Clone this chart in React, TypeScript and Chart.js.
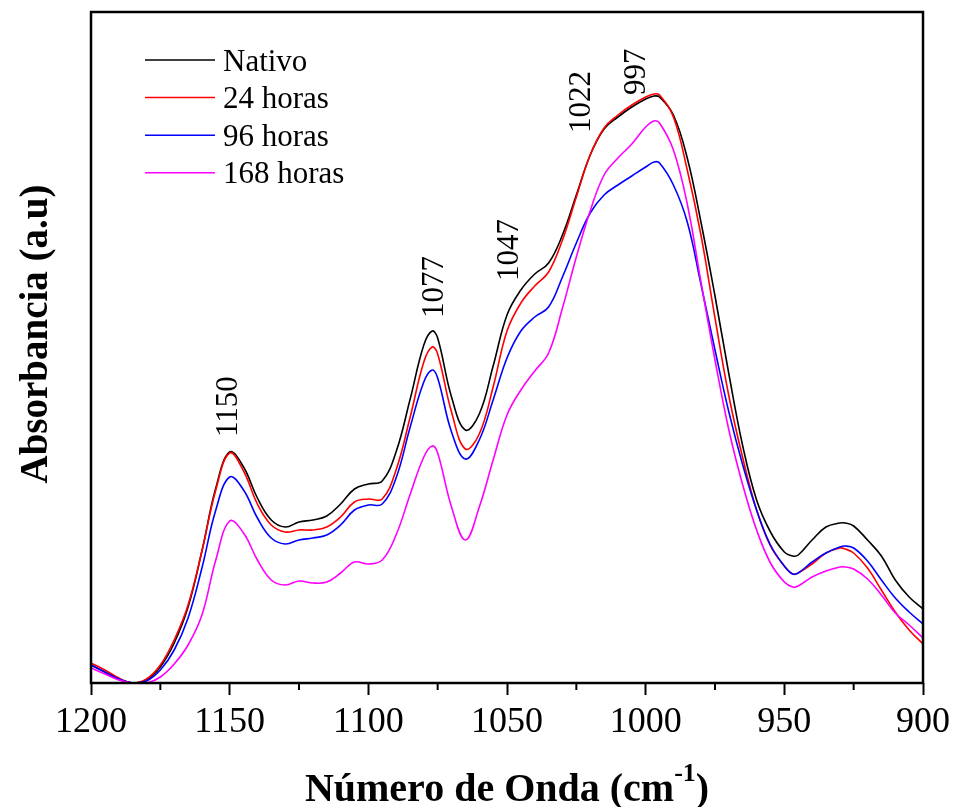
import React, { useEffect, useRef } from 'react';
import { Chart, registerables } from 'chart.js';

Chart.register(...registerables);

const wavenumbers = [
  1200, 1195, 1190, 1185, 1180, 1175, 1170, 1165, 1160, 1155,
  1150, 1145, 1140, 1135, 1130, 1125, 1120, 1115, 1110, 1105,
  1100, 1095, 1090, 1085, 1080, 1077, 1075, 1070, 1065, 1060,
  1055, 1050, 1045, 1040, 1035, 1030, 1025, 1020, 1015, 1010,
  1005, 1000, 997, 995, 990, 985, 980, 975, 970, 965,
  960, 955, 950, 947, 945, 940, 935, 930, 928, 925,
  920, 915, 910, 905, 900,
];

const nativo = [
  0.018, 0.011, 0.004, 0.000, 0.003, 0.016, 0.040, 0.076, 0.132, 0.195,
  0.231, 0.216, 0.185, 0.163, 0.156, 0.161, 0.163, 0.167, 0.179, 0.194,
  0.199, 0.202, 0.231, 0.283, 0.338, 0.352, 0.345, 0.286, 0.253, 0.269,
  0.317, 0.368, 0.393, 0.409, 0.420, 0.448, 0.488, 0.528, 0.554, 0.566,
  0.576, 0.584, 0.587, 0.586, 0.568, 0.525, 0.460, 0.387, 0.309, 0.237,
  0.183, 0.151, 0.131, 0.127, 0.128, 0.143, 0.156, 0.160, 0.160, 0.157,
  0.143, 0.127, 0.103, 0.086, 0.074,
];

const horas24 = [
  0.020, 0.013, 0.005, 0.000, 0.004, 0.018, 0.043, 0.078, 0.132, 0.193,
  0.230, 0.212, 0.179, 0.158, 0.151, 0.153, 0.153, 0.156, 0.166, 0.181,
  0.184, 0.184, 0.213, 0.265, 0.321, 0.336, 0.329, 0.271, 0.234, 0.249,
  0.296, 0.352, 0.380, 0.397, 0.411, 0.443, 0.486, 0.528, 0.555, 0.568,
  0.578, 0.586, 0.589, 0.588, 0.566, 0.513, 0.447, 0.365, 0.287, 0.225,
  0.173, 0.137, 0.117, 0.109, 0.110, 0.119, 0.130, 0.135, 0.134, 0.130,
  0.115, 0.093, 0.071, 0.053, 0.039,
];

const horas96 = [
  0.018, 0.011, 0.004, 0.000, 0.002, 0.013, 0.033, 0.065, 0.115, 0.173,
  0.206, 0.193, 0.165, 0.145, 0.139, 0.143, 0.145, 0.148, 0.158, 0.173,
  0.178, 0.179, 0.205, 0.255, 0.301, 0.313, 0.305, 0.251, 0.224, 0.243,
  0.283, 0.325, 0.352, 0.366, 0.376, 0.406, 0.440, 0.470, 0.488, 0.498,
  0.507, 0.516, 0.521, 0.520, 0.498, 0.461, 0.398, 0.333, 0.271, 0.218,
  0.173, 0.138, 0.117, 0.109, 0.110, 0.121, 0.130, 0.136, 0.137, 0.135,
  0.122, 0.103, 0.085, 0.071, 0.059,
];

const horas168 = [
  0.015, 0.009, 0.003, 0.000, 0.000, 0.006, 0.019, 0.038, 0.068, 0.123,
  0.162, 0.150, 0.123, 0.103, 0.098, 0.102, 0.100, 0.101, 0.110, 0.121,
  0.119, 0.123, 0.148, 0.188, 0.226, 0.237, 0.230, 0.176, 0.143, 0.176,
  0.223, 0.268, 0.293, 0.312, 0.330, 0.375, 0.426, 0.472, 0.508, 0.525,
  0.539, 0.556, 0.562, 0.560, 0.533, 0.479, 0.400, 0.323, 0.253, 0.198,
  0.153, 0.120, 0.101, 0.096, 0.097, 0.106, 0.112, 0.116, 0.116, 0.114,
  0.104, 0.088, 0.070, 0.058, 0.045,
];

const seriesLabels = ['Nativo', '24 horas', '96 horas', '168 horas'];
const seriesColors = ['#000000', '#ff0000', '#0000ff', '#ff00ff'];
const seriesValues = [nativo, horas24, horas96, horas168];

const minorTicks = [1175, 1125, 1075, 1025, 975, 925];

const peakLabels = ['1150', '1077', '1047', '1022', '997'];
const peakLabelX = [1151, 1077, 1050, 1024, 1004];
const peakLabelY = [0.246, 0.365, 0.402, 0.55, 0.588];

const SERIF = "'Liberation Serif', 'Times New Roman', serif";

const overlayPlugin = {
  id: 'overlay',
  afterDraw(chart: any) {
    const { ctx, chartArea: a, scales } = chart;
    const x = scales.x;
    const y = scales.y;
    ctx.save();
    // frame
    ctx.strokeStyle = '#000';
    ctx.lineWidth = 2.5;
    ctx.strokeRect(a.left, a.top, a.right - a.left, a.bottom - a.top);
    // minor ticks
    ctx.lineWidth = 2;
    minorTicks.forEach((w) => {
      const px = x.getPixelForValue(w);
      ctx.beginPath();
      ctx.moveTo(px, a.bottom);
      ctx.lineTo(px, a.bottom + 7);
      ctx.stroke();
    });
    // peak labels
    ctx.fillStyle = '#000';
    ctx.font = `31px ${SERIF}`;
    ctx.textAlign = 'left';
    ctx.textBaseline = 'alphabetic';
    peakLabels.forEach((t, i) => {
      const cx = x.getPixelForValue(peakLabelX[i]);
      const by = y.getPixelForValue(peakLabelY[i]);
      ctx.save();
      ctx.translate(cx + 10.5, by);
      ctx.rotate(-Math.PI / 2);
      ctx.fillText(t, 0, 0);
      ctx.restore();
    });
    // legend
    ctx.font = `31px ${SERIF}`;
    chart.data.datasets.forEach((ds: any, i: number) => {
      const ly = a.top + 48 + i * 37.6;
      ctx.strokeStyle = ds.borderColor;
      ctx.lineWidth = 1.5;
      ctx.beginPath();
      ctx.moveTo(a.left + 54, ly);
      ctx.lineTo(a.left + 124, ly);
      ctx.stroke();
      ctx.fillStyle = '#000';
      ctx.fillText(ds.label, a.left + 132, ly + 10.5);
    });
    // y title
    ctx.font = `bold 39px ${SERIF}`;
    ctx.textAlign = 'center';
    ctx.save();
    ctx.translate(47, 334);
    ctx.rotate(-Math.PI / 2);
    ctx.fillText('Absorbancia (a.u)', 0, 0);
    ctx.restore();
    // x title with superscript
    const main1 = 'Número de Onda (cm';
    const sup = '-1';
    const main2 = ')';
    ctx.textAlign = 'left';
    ctx.font = `bold 40px ${SERIF}`;
    const w1 = ctx.measureText(main1).width;
    const w3 = ctx.measureText(main2).width;
    ctx.font = `bold 26px ${SERIF}`;
    const w2 = ctx.measureText(sup).width;
    const total = w1 + w2 + w3;
    const cx = (a.left + a.right) / 2;
    let sx = cx - total / 2;
    const base = 801;
    ctx.font = `bold 40px ${SERIF}`;
    ctx.fillText(main1, sx, base);
    sx += w1;
    ctx.font = `bold 26px ${SERIF}`;
    ctx.fillText(sup, sx, base - 20);
    sx += w2;
    ctx.font = `bold 40px ${SERIF}`;
    ctx.fillText(main2, sx, base);
    ctx.restore();
  },
};

export default function App() {
  const canvasRef = useRef<HTMLCanvasElement | null>(null);

  useEffect(() => {
    const canvas = canvasRef.current;
    if (!canvas) return;
    const chart = new Chart(canvas, {
      type: 'line',
      data: {
        datasets: seriesValues.map((vals, i) => ({
          label: seriesLabels[i],
          data: wavenumbers.map((w, j) => ({ x: w, y: vals[j] })),
          borderColor: seriesColors[i],
          backgroundColor: seriesColors[i],
          borderWidth: 1.6,
          pointRadius: 0,
          fill: false,
          tension: 0.4,
          order: 3 - i,
        })),
      },
      options: {
        animation: false,
        responsive: false,
        layout: { padding: { left: 91, right: 32, top: 12, bottom: 0 } },
        plugins: {
          legend: { display: false },
          tooltip: { enabled: false },
        },
        scales: {
          x: {
            type: 'linear',
            reverse: true,
            min: 900,
            max: 1200,
            afterFit: (scale: any) => {
              scale.height = 124;
            },
            border: { display: false },
            grid: {
              display: true,
              drawOnChartArea: false,
              drawTicks: true,
              tickLength: 12,
              tickWidth: 2,
              tickColor: '#000',
              color: '#000',
            },
            ticks: {
              stepSize: 50,
              autoSkip: false,
              maxRotation: 0,
              padding: 6,
              color: '#000',
              font: { family: SERIF, size: 36 },
              callback: (v: any) => String(v),
            },
          },
          y: {
            display: false,
            min: 0,
            max: 0.671,
          },
        },
      },
      plugins: [overlayPlugin],
    });
    return () => chart.destroy();
  }, []);

  return (
    <div style={{ position: 'fixed', left: 0, top: 0, width: 956, height: 807, background: '#fff' }}>
      <canvas ref={canvasRef} width={956} height={807} />
    </div>
  );
}
